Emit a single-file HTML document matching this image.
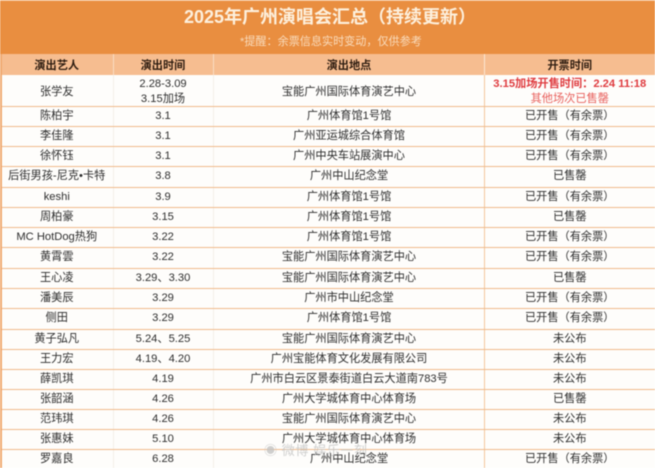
<!DOCTYPE html>
<html lang="zh-CN">
<head>
<meta charset="utf-8">
<title>2025年广州演唱会汇总</title>
<style>
html,body{margin:0;padding:0;background:#fff;}
body{width:655px;height:468px;overflow:hidden;position:relative;font-family:"Liberation Sans","Noto Sans CJK SC",sans-serif;}
#wrap{position:absolute;left:0;top:0;width:655px;height:468px;overflow:hidden;filter:blur(0.45px);}
#banner{position:absolute;left:0;top:0;width:655px;height:54px;background:#e98e40;}
#title{position:absolute;left:184px;top:5px;text-align:left;color:#fdf0dd;font-size:18px;font-weight:bold;line-height:24px;white-space:nowrap;}
#tip{position:absolute;left:240px;top:35px;color:#f9dcbd;font-size:11.1px;line-height:14px;white-space:nowrap;}
table{position:absolute;left:1px;top:54px;width:654px;border-collapse:collapse;table-layout:fixed;color:#2e2e2e;font-size:11.2px;text-align:center;}
th{background:#f6bd90;color:#2d1c10;font-size:11.2px;font-weight:bold;padding:2px 0 0 0;height:19px;border-right:1px solid #f9dcc4;line-height:14px;}
td{padding:0;line-height:15px;border-bottom:1px solid #f0bb8c;border-right:1px solid #f4efe9;background:#fefdfb;white-space:nowrap;}
th:last-child,td:last-child{border-right:0;}
td:nth-child(3){border-right:1px solid #f3c79c;padding-left:1px;}
th:nth-child(3){border-right:1px solid #fbe6d3;padding-left:1px;}
.s{position:relative;top:2px;display:inline-block;}
.red{color:#df3b3f;font-weight:bold;font-size:11.2px;}
.red2{color:#e8605c;}
#edge{position:absolute;left:0;top:54px;width:1.5px;height:414px;background:#f0aa72;}
#topline{position:absolute;left:0;top:0;width:655px;height:1px;background:#f4c08f;}
#mark{position:absolute;left:264px;top:443px;color:#c4c4c4;font-size:13px;line-height:16px;letter-spacing:.6px;white-space:nowrap;opacity:.8;}
</style>
</head>
<body>
<div id="wrap">
<div id="banner"></div>
<div id="topline"></div>
<div id="title">2025年广州演唱会汇总（持续更新）</div>
<div id="tip">*提醒：余票信息实时变动，仅供参考</div>
<table>
<colgroup><col style="width:112px"><col style="width:100px"><col style="width:271px"><col style="width:171px"></colgroup>
<thead><tr>
<th>演出艺人</th>
<th>演出时间</th>
<th>演出地点</th>
<th>开票时间</th>
</tr></thead>
<tbody>
<tr style="height:31px"><td><span class="s">张学友</span></td><td><span class="s">2.28-3.09<br>3.15加场</span></td><td><span class="s">宝能广州国际体育演艺中心</span></td><td><span class="s"><span class="red">3.15加场开售时间：2.24 11:18</span><br><span class="red2">其他场次已售罄</span></span></td></tr>
<tr style="height:20px"><td>陈柏宇</td><td>3.1</td><td>广州体育馆1号馆</td><td>已开售（有余票）</td></tr>
<tr style="height:20px"><td>李佳隆</td><td>3.1</td><td>广州亚运城综合体育馆</td><td>已开售（有余票）</td></tr>
<tr style="height:20px"><td>徐怀钰</td><td>3.1</td><td>广州中央车站展演中心</td><td>已开售（有余票）</td></tr>
<tr style="height:21px"><td>后街男孩-尼克•卡特</td><td>3.8</td><td>广州中山纪念堂</td><td>已售罄</td></tr>
<tr style="height:20px"><td>keshi</td><td>3.9</td><td>广州体育馆1号馆</td><td>已开售（有余票）</td></tr>
<tr style="height:20px"><td>周柏豪</td><td>3.15</td><td>广州体育馆1号馆</td><td>已售罄</td></tr>
<tr style="height:20px"><td>MC HotDog热狗</td><td>3.22</td><td>广州体育馆1号馆</td><td>已开售（有余票）</td></tr>
<tr style="height:21px"><td>黄霄雲</td><td>3.22</td><td>宝能广州国际体育演艺中心</td><td>已开售（有余票）</td></tr>
<tr style="height:20px"><td>王心凌</td><td>3.29、3.30</td><td>宝能广州国际体育演艺中心</td><td>已售罄</td></tr>
<tr style="height:20px"><td>潘美辰</td><td>3.29</td><td>广州市中山纪念堂</td><td>已开售（有余票）</td></tr>
<tr style="height:21px"><td>侧田</td><td>3.29</td><td>广州体育馆1号馆</td><td>已开售（有余票）</td></tr>
<tr style="height:20px"><td>黄子弘凡</td><td>5.24、5.25</td><td>宝能广州国际体育演艺中心</td><td>未公布</td></tr>
<tr style="height:20px"><td>王力宏</td><td>4.19、4.20</td><td>广州宝能体育文化发展有限公司</td><td>未公布</td></tr>
<tr style="height:20px"><td>薛凯琪</td><td>4.19</td><td>广州市白云区景泰街道白云大道南783号</td><td>未公布</td></tr>
<tr style="height:20px"><td>张韶涵</td><td>4.26</td><td>广州大学城体育中心体育场</td><td>已售罄</td></tr>
<tr style="height:20px"><td>范玮琪</td><td>4.26</td><td>宝能广州国际体育演艺中心</td><td>未公布</td></tr>
<tr style="height:20px"><td>张惠妹</td><td>5.10</td><td>广州大学城体育中心体育场</td><td>未公布</td></tr>
<tr style="height:20px"><td>罗嘉良</td><td>6.28</td><td>广州中山纪念堂</td><td>已开售（有余票）</td></tr>
</tbody>
</table>
<div id="edge"></div>
<div id="mark">◉ 微博 娱乐一刻</div>
</div>
</body>
</html>
